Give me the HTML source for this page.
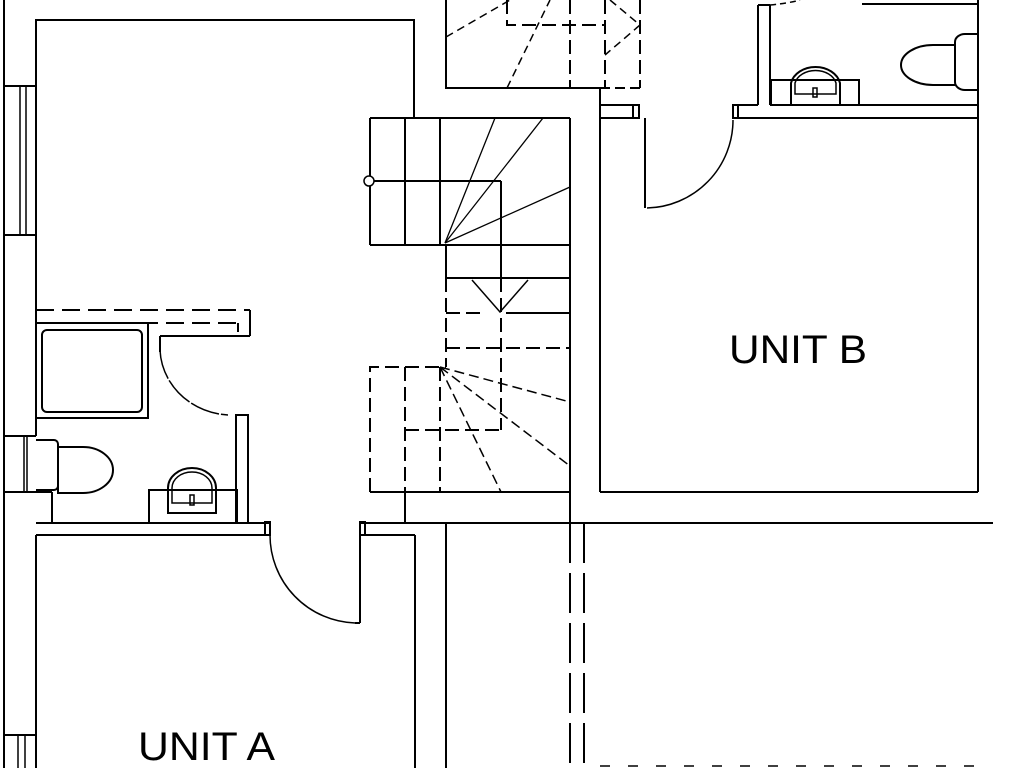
<!DOCTYPE html>
<html><head><meta charset="utf-8"><style>
html,body{margin:0;padding:0;background:#fff;width:1024px;height:768px;overflow:hidden}
svg{display:block}
text{font-family:"Liberation Sans",sans-serif;fill:#000}
</style></head><body>
<svg width="1024" height="768" viewBox="0 0 1024 768" xmlns="http://www.w3.org/2000/svg">
<g fill="none" stroke="#000" stroke-width="2">
<line x1="4" y1="0" x2="4" y2="768"/>
<polyline points="36,436 36,20 414,20 414,118"/>
<line x1="4" y1="86" x2="36" y2="86"/><line x1="4" y1="235" x2="36" y2="235"/>
<line x1="20" y1="86" x2="20" y2="235" stroke-width="1.5"/><line x1="26" y1="86" x2="26" y2="235" stroke-width="1.5"/>
<line x1="36" y1="310" x2="250" y2="310" stroke-dasharray="18,8"/>
<line x1="36" y1="323" x2="238" y2="323" stroke-dasharray="18,8"/>
<line x1="250" y1="310" x2="250" y2="336"/><line x1="238" y1="323" x2="238" y2="332"/>
<line x1="160" y1="336" x2="250" y2="336"/><line x1="160" y1="336" x2="160" y2="352"/>
<rect x="36" y="323" width="112" height="95"/>
<rect x="42" y="330" width="100" height="82" rx="5"/>
<path d="M160,350 A72,68 0 0 0 228,415" stroke-width="1.5" stroke-dasharray="30,2"/>
<rect x="236" y="415" width="12" height="108"/>
<line x1="4" y1="436" x2="36" y2="436"/><line x1="4" y1="492" x2="52" y2="492"/>
<line x1="24" y1="436" x2="24" y2="492" stroke-width="1.5"/><line x1="27" y1="436" x2="27" y2="492" stroke-width="1.5"/>
<line x1="52" y1="492" x2="52" y2="523"/>
<path d="M36,440 h18 a4,4 0 0 1 4,4 v42 a4,4 0 0 1 -4,4 h-18" />
<path d="M58,447 h25 a30,23 0 0 1 0,46 h-25 z"/>
<rect x="149" y="490" width="88" height="33"/>
<path d="M168,513 v-25 a24,20 0 0 1 48,0 v25 z"/>
<path d="M172,503 v-15 a20,16 0 0 1 40,0 v15 z" stroke-width="1.5"/>
<rect x="190" y="495" width="4" height="10" stroke-width="1.5"/>
<line x1="36" y1="523" x2="270" y2="523"/><line x1="36" y1="535" x2="265" y2="535"/>
<line x1="36" y1="535" x2="36" y2="768"/>
<rect x="265" y="522" width="5" height="13"/>
<path d="M270,535 A88,88 0 0 0 355,623" stroke-width="1.5"/>
<line x1="355" y1="623" x2="360" y2="623"/>
<line x1="360" y1="535" x2="360" y2="623"/>
<rect x="360" y="522" width="5" height="13"/>
<line x1="365" y1="535" x2="415" y2="535"/>
<line x1="360" y1="523" x2="993" y2="523"/>
<line x1="415" y1="535" x2="415" y2="768"/>
<line x1="446" y1="523" x2="446" y2="768"/>
<line x1="4" y1="735" x2="36" y2="735"/>
<line x1="18" y1="735" x2="18" y2="768" stroke-width="1.5"/><line x1="25" y1="735" x2="25" y2="768" stroke-width="1.5"/>
<polyline points="446,0 446,88 600,88"/>
<line x1="600" y1="88" x2="640" y2="88" stroke-dasharray="10,5"/>
<line x1="570" y1="0" x2="570" y2="88" stroke-dasharray="14,6"/>
<line x1="605" y1="0" x2="605" y2="88" stroke-dasharray="14,6"/>
<line x1="640" y1="0" x2="640" y2="88" stroke-dasharray="14,6"/>
<polyline points="507,0 507,25 605,25" stroke-dasharray="14,6"/>
<line x1="446" y1="37" x2="510" y2="0" stroke-dasharray="8,5" stroke-width="1.5"/>
<line x1="507" y1="88" x2="550" y2="0" stroke-dasharray="8,5" stroke-width="1.5"/>
<polyline points="610,0 640,25 605,55" stroke-dasharray="8,5" stroke-width="1.5"/>
<line x1="370" y1="118" x2="570" y2="118"/>
<line x1="370" y1="118" x2="370" y2="245"/><line x1="405" y1="118" x2="405" y2="245"/><line x1="440" y1="118" x2="440" y2="245"/>
<line x1="370" y1="181" x2="501" y2="181"/>
<line x1="501" y1="181" x2="501" y2="278"/>
<line x1="370" y1="245" x2="570" y2="245"/>
<line x1="446" y1="245" x2="446" y2="278"/>
<line x1="446" y1="278" x2="570" y2="278"/>
<g stroke-width="1.3"><line x1="445" y1="243" x2="495" y2="118"/><line x1="445" y1="243" x2="543" y2="118"/><line x1="445" y1="243" x2="570" y2="187"/></g>
<polyline points="472,280 500,312 528,280" stroke-width="1.5"/>
<line x1="446" y1="278" x2="446" y2="367" stroke-dasharray="14,6"/>
<line x1="501" y1="278" x2="501" y2="430" stroke-dasharray="14,6"/>
<line x1="446" y1="313" x2="482" y2="313" stroke-dasharray="14,6"/>
<line x1="506" y1="313" x2="570" y2="313"/>
<line x1="446" y1="348" x2="570" y2="348" stroke-dasharray="14,6"/>
<polyline points="370,492 370,367 446,367" stroke-dasharray="14,6"/>
<line x1="405" y1="367" x2="405" y2="492" stroke-dasharray="14,6"/>
<line x1="440" y1="367" x2="440" y2="492" stroke-dasharray="14,6"/>
<line x1="405" y1="430" x2="501" y2="430" stroke-dasharray="14,6"/>
<g stroke-width="1.5" stroke-dasharray="10,5"><line x1="440" y1="367" x2="570" y2="402"/><line x1="440" y1="367" x2="570" y2="466"/><line x1="440" y1="367" x2="501" y2="492"/></g>
<line x1="370" y1="492" x2="570" y2="492"/>
<line x1="405" y1="492" x2="405" y2="523"/>
<line x1="570" y1="118" x2="570" y2="523"/>
<line x1="570" y1="523" x2="570" y2="768" stroke-dasharray="40,10"/>
<line x1="584" y1="523" x2="584" y2="768" stroke-dasharray="40,10"/>
<line x1="600" y1="88" x2="600" y2="492"/>
<line x1="600" y1="492" x2="978" y2="492"/>
<line x1="600" y1="105" x2="640" y2="105"/><line x1="600" y1="118" x2="640" y2="118"/>
<rect x="633" y="105" width="6" height="13"/>
<line x1="645" y1="118" x2="645" y2="208"/>
<path d="M733,120 A88,88 0 0 1 647,208" stroke-width="1.5"/>
<rect x="733" y="105" width="5" height="13"/>
<line x1="738" y1="105" x2="758" y2="105"/>
<line x1="738" y1="118" x2="978" y2="118"/>
<line x1="770" y1="105" x2="978" y2="105"/>
<line x1="758" y1="5" x2="758" y2="105"/><line x1="770" y1="5" x2="770" y2="105"/>
<line x1="758" y1="5" x2="770" y2="5"/>
<path d="M770,5 Q790,3 800,0" stroke-width="1.5" stroke-dasharray="6,4"/>
<line x1="862" y1="4" x2="978" y2="4"/>
<line x1="978" y1="0" x2="978" y2="492"/>
<rect x="771" y="80" width="88" height="25"/>
<path d="M791,105 v-22 a25,20 0 0 1 49,0 v22 z"/>
<path d="M795,94 v-11 a21,16 0 0 1 41,0 v11 z" stroke-width="1.5"/>
<rect x="813" y="88" width="4" height="9" stroke-width="1.5"/>
<path d="M955,42 a10,8 0 0 1 10,-8 h13 v56 h-13 a10,8 0 0 1 -10,-8 z"/>
<path d="M955,45 h-22 a32,20 0 0 0 0,40 h22"/>
</g>
<g stroke="#000" stroke-width="1.5" fill="none" stroke-dasharray="10,18"><line x1="600" y1="766" x2="975" y2="766"/></g>
<circle cx="369" cy="181" r="5" fill="#fff" stroke="#000" stroke-width="1.5"/>
<text x="729" y="363" font-size="40" textLength="138" lengthAdjust="spacingAndGlyphs">UNIT B</text>
<text x="138" y="760" font-size="40" textLength="137" lengthAdjust="spacingAndGlyphs">UNIT A</text>
</svg>
</body></html>
